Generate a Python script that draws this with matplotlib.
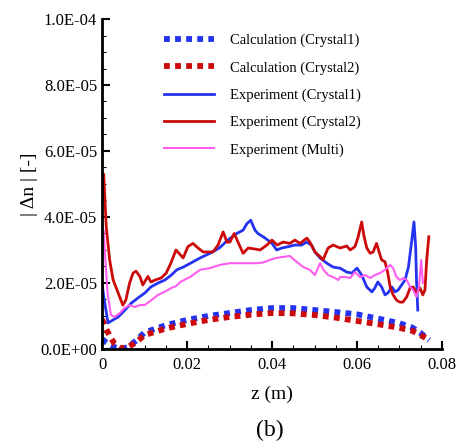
import matplotlib
matplotlib.use("Agg")
import matplotlib.pyplot as plt
from matplotlib.ticker import MultipleLocator, FuncFormatter

plt.rcParams['font.family'] = ['Liberation Serif', 'DejaVu Serif']

# calculation curves (values in 1e-5)
z_calc = [0, 0.001, 0.002, 0.003, 0.0045, 0.006, 0.008, 0.01, 0.015, 0.02, 0.025, 0.03,
          0.035, 0.04, 0.045, 0.05, 0.055, 0.06, 0.065, 0.07, 0.073, 0.075, 0.077]
calc1 = [0.3, 0.2, 0.12, 0.05, 0.0, 0.05, 0.25, 0.5, 0.72, 0.88, 1.0, 1.09,
         1.18, 1.24, 1.24, 1.18, 1.12, 1.05, 0.92, 0.78, 0.65, 0.48, 0.27]
calc2 = [0.9, 0.6, 0.35, 0.15, 0.02, 0.05, 0.2, 0.42, 0.62, 0.76, 0.88, 0.97,
         1.04, 1.09, 1.08, 1.03, 0.95, 0.85, 0.75, 0.64, 0.55, 0.42, 0.27]

# experiment crystal2 (red)
z_exp2 = [0.0, 0.0004, 0.001, 0.0018, 0.0026, 0.0038, 0.0049, 0.0056, 0.0065, 0.0073, 0.008,
          0.0089, 0.0096, 0.0108, 0.0115, 0.0127, 0.0139, 0.0151, 0.0162, 0.0174, 0.0191,
          0.0202, 0.0214, 0.0226, 0.0238, 0.0249, 0.0261, 0.0273, 0.0285, 0.0294, 0.0301,
          0.0311, 0.032, 0.0332, 0.0344, 0.036, 0.0372, 0.0388, 0.04, 0.0412, 0.0426,
          0.0442, 0.0454, 0.0466, 0.0482, 0.0489, 0.0501, 0.0513, 0.052, 0.0532, 0.0544,
          0.056, 0.0576, 0.0584, 0.0595, 0.0602, 0.0611, 0.0616, 0.0623, 0.0631, 0.0638,
          0.0646, 0.0652, 0.0658, 0.0666, 0.0672, 0.0678, 0.0685, 0.0693, 0.0701, 0.0708,
          0.0717, 0.0725, 0.0732, 0.074, 0.0748, 0.0755, 0.076, 0.0764, 0.0769]
exp2 = [4.5, 5.3, 3.7, 2.7, 2.1, 1.7, 1.33, 1.48, 2.0, 2.3, 2.36,
        2.2, 1.94, 2.2, 2.03, 2.1, 2.15, 2.3, 2.6, 3.0, 2.76,
        3.1, 3.2, 3.06, 2.94, 2.94, 2.94, 3.15, 3.55, 3.24, 3.24,
        3.5, 3.24, 2.9, 3.06, 3.03, 3.0, 3.15, 3.3, 3.15, 3.24,
        3.2, 3.3, 3.2, 3.36, 3.24, 2.94, 2.8, 2.7, 3.06, 3.15,
        3.06, 3.12, 3.0, 3.1, 3.36, 3.85, 3.45, 3.06, 2.9, 2.94,
        3.2, 2.94, 2.7, 2.64, 2.33, 1.88, 1.64, 1.48, 1.42, 1.42,
        1.58, 1.85, 1.88, 1.7, 1.85, 1.64, 1.8, 2.7, 3.4]

# experiment crystal1 (blue)
z_exp1 = [0.0, 0.0004, 0.0014, 0.0026, 0.0038, 0.0054, 0.0069, 0.0085, 0.0101, 0.0115,
          0.0132, 0.0148, 0.0163, 0.0176, 0.0191, 0.0214, 0.0231, 0.0254, 0.0276,
          0.0296, 0.0317, 0.0332, 0.0341, 0.035, 0.036, 0.0367, 0.0384, 0.04, 0.0411,
          0.0423, 0.0438, 0.0454, 0.047, 0.0481, 0.0493, 0.0501, 0.0513, 0.0529, 0.0544,
          0.056, 0.0576, 0.0588, 0.06, 0.0611, 0.0623, 0.0635, 0.0642, 0.0649, 0.0658,
          0.0666, 0.0673, 0.0682, 0.069, 0.0697, 0.0705, 0.0713, 0.0721, 0.0729, 0.0734,
          0.0738, 0.074, 0.0743]
exp1 = [2.0, 1.6, 0.79, 0.88, 0.97, 1.18, 1.39, 1.55, 1.7, 1.88,
        2.0, 2.09, 2.24, 2.4, 2.48, 2.64, 2.76, 2.9, 3.06,
        3.3, 3.5, 3.6, 3.8, 3.9, 3.6, 3.5, 3.36, 3.2, 3.0,
        3.06, 3.1, 3.15, 3.15, 3.24, 3.15, 2.94, 2.76, 2.6, 2.48,
        2.45, 2.33, 2.3, 2.45, 2.24, 1.88, 1.73, 1.85, 2.03, 1.88,
        1.64, 1.7, 1.88, 1.73, 1.79, 1.94, 2.09, 2.48, 3.3, 3.85,
        3.1, 2.09, 1.18]

# experiment multi (magenta)
z_multi = [0.0, 0.0004, 0.0008, 0.0013, 0.0021, 0.003, 0.0042, 0.0053, 0.0065, 0.0077,
           0.0089, 0.01, 0.0116, 0.0132, 0.0147, 0.0163, 0.0175, 0.0184, 0.0207, 0.0231,
           0.0254, 0.0278, 0.0301, 0.0325, 0.0348, 0.0364, 0.0379, 0.0395, 0.0411, 0.0426,
           0.0442, 0.0458, 0.0474, 0.0489, 0.0501, 0.0513, 0.0521, 0.0532, 0.0544, 0.0556,
           0.056, 0.0572, 0.0584, 0.0595, 0.0607, 0.0619, 0.0631, 0.0642, 0.0654, 0.0666,
           0.0678, 0.0685, 0.0693, 0.0701, 0.0709, 0.0717, 0.0725, 0.0732, 0.074, 0.0746,
           0.0751, 0.0755]
multi = [3.0, 3.6, 2.7, 1.7, 1.03, 0.97, 1.09, 1.24, 1.33, 1.27,
         1.33, 1.33, 1.48, 1.64, 1.73, 1.85, 1.91, 2.03, 2.18, 2.4,
         2.45, 2.55, 2.6, 2.6, 2.6, 2.6, 2.62, 2.7, 2.76, 2.79,
         2.82, 2.64, 2.48, 2.4, 2.24, 2.6, 2.4, 2.24, 2.18, 2.09,
         2.18, 2.18, 2.15, 2.33, 2.18, 2.24, 2.15, 2.24, 2.3, 2.4,
         2.55, 2.45, 2.18, 2.09, 2.15, 2.09, 1.88, 1.79, 1.58, 1.88,
         2.7, 2.0]

blue = '#2433f0'
red = '#cc0a0a'
pink = '#ff5cf0'

scale = 1e-5
fig = plt.figure(figsize=(4.62, 4.44), dpi=100)
ax = fig.add_axes([0.2208, 0.214, 0.7359, 0.7432])

dot = (0, (1.0, 0.9))
ax.plot(z_calc, [v * scale for v in calc1], color=blue, lw=4.2, ls=dot,
        dash_capstyle='butt', label='Calculation (Crystal1)')
ax.plot(z_calc, [v * scale for v in calc2], color=red, lw=4.2, ls=dot,
        dash_capstyle='butt', label='Calculation (Crystal2)')
ax.plot(z_exp1, [v * scale for v in exp1], color=blue, lw=2.0, label='Experiment (Crystal1)')
ax.plot(z_exp2, [v * scale for v in exp2], color=red, lw=2.0, label='Experiment (Crystal2)')
ax.plot(z_multi, [v * scale for v in multi], color=pink, lw=1.5,
        label='Experiment (Multi)')

ax.set_xlim(0, 0.08)
ax.set_ylim(0, 1e-4)
ax.xaxis.set_major_locator(MultipleLocator(0.02))
ax.xaxis.set_minor_locator(MultipleLocator(0.005))
ax.yaxis.set_major_locator(MultipleLocator(2e-5))
ax.yaxis.set_minor_locator(MultipleLocator(0.5e-5))
ax.xaxis.set_major_formatter(FuncFormatter(lambda v, p: '0' if v == 0 else f'{v:g}'))
ax.yaxis.set_major_formatter(FuncFormatter(lambda v, p: f'{v:.1E}'))

for s in ['top', 'right']:
    ax.spines[s].set_visible(False)
for s in ['left', 'bottom']:
    ax.spines[s].set_linewidth(2)
ax.tick_params(which='major', direction='in', length=6, width=1.5, labelsize=12)
ax.tick_params(which='minor', direction='in', length=3, width=0.8)
ax.tick_params(axis='x', pad=6)

ax.set_xlabel('z (m)', fontsize=14, labelpad=9)
ax.set_ylabel('| Δn | [-]', fontsize=14, labelpad=2)

leg = ax.legend(loc='upper left', bbox_to_anchor=(0.145, 0.995), frameon=False,
                fontsize=10.5, handlelength=3.4, handletextpad=1.1, labelspacing=0.95)

fig.text(0.585, 0.03, '(b)', fontsize=17, ha='center', va='center')

fig.savefig('out.png', dpi=100)
